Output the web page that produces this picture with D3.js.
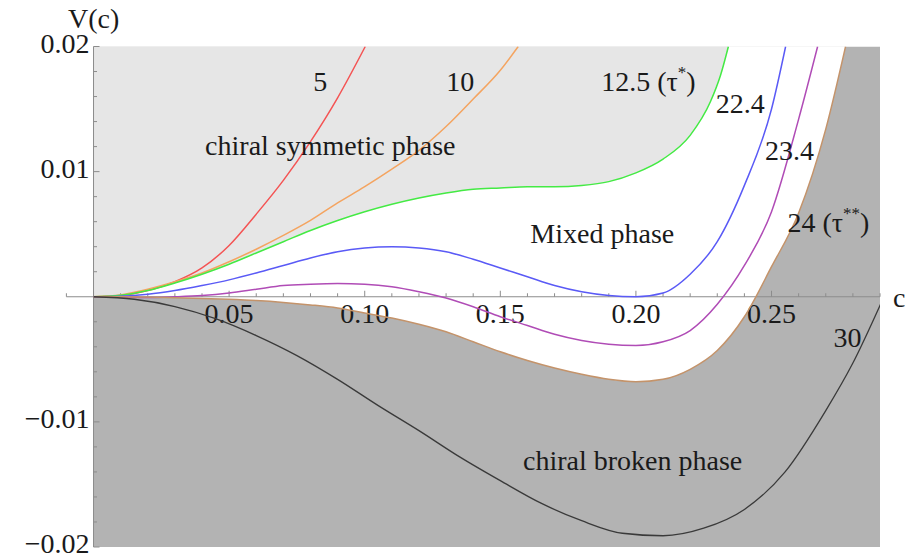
<!DOCTYPE html>
<html>
<head>
<meta charset="utf-8">
<script src="https://cdn.jsdelivr.net/npm/d3@7"></script>
<style>
  html, body { margin: 0; padding: 0; background: #fff; }
</style>
</head>
<body>
<svg id="chart" width="906" height="554"></svg>
<script>
// V(c) curves, one per tau as [c, V]
const tau5 = [[0,0],[0.01,0.0001],[0.02,0.0005],[0.03,0.0012],[0.04,0.0023],[0.05,0.0041],[0.06,0.0066],[0.07,0.0093],[0.08,0.0124],[0.09,0.0159],[0.1002,0.02]];
const tau10 = [[0,0],[0.01,0.00015],[0.02,0.0006],[0.03,0.0012],[0.04,0.0019],[0.05,0.0028],[0.06,0.0038],[0.07,0.0049],[0.08,0.0061],[0.09,0.0075],[0.10,0.0088],[0.11,0.0102],[0.12,0.0117],[0.13,0.0136],[0.14,0.0158],[0.15,0.0181],[0.1566,0.02]];
const tau125 = [[0,0],[0.01,0.00012],[0.02,0.0005],[0.03,0.0011],[0.04,0.0018],[0.05,0.0026],[0.06,0.0035],[0.07,0.0044],[0.08,0.0053],[0.09,0.0061],[0.10,0.0068],[0.11,0.0074],[0.12,0.0079],[0.13,0.0083],[0.14,0.0086],[0.15,0.0087],[0.16,0.0088],[0.17,0.0088],[0.18,0.0089],[0.19,0.0092],[0.20,0.0099],[0.21,0.0110],[0.22,0.0129],[0.2275,0.0156],[0.2312,0.0177],[0.2341,0.02]];
const tau224 = [[0,0],[0.01,0.00004],[0.02,0.0002],[0.03,0.0005],[0.04,0.0009],[0.05,0.00135],[0.06,0.0019],[0.07,0.0025],[0.08,0.0031],[0.09,0.0036],[0.10,0.0039],[0.11,0.0040],[0.12,0.0039],[0.13,0.0036],[0.14,0.0030],[0.15,0.0023],[0.16,0.0016],[0.17,0.0009],[0.18,0.0004],[0.19,0.0001],[0.20,0],[0.21,0.0003],[0.22,0.0018],[0.23,0.0044],[0.24,0.0089],[0.25,0.0150],[0.2552,0.02]];
const tau234 = [[0,0],[0.01,-0.00002],[0.02,-0.00006],[0.03,0],[0.04,0.0001],[0.05,0.0003],[0.06,0.0006],[0.07,0.0009],[0.08,0.0010],[0.09,0.00105],[0.10,0.0010],[0.11,0.0008],[0.12,0.0004],[0.13,-0.0001],[0.14,-0.0008],[0.15,-0.0016],[0.16,-0.0023],[0.17,-0.0030],[0.18,-0.0035],[0.19,-0.0038],[0.20,-0.0039],[0.21,-0.0036],[0.22,-0.0027],[0.23,-0.0006],[0.24,0.0025],[0.25,0.0068],[0.26,0.0142],[0.267,0.02]];
const tau24 = [[0,0],[0.01,0],[0.02,-0.00003],[0.03,-0.00008],[0.04,-0.00013],[0.05,-0.0002],[0.06,-0.0003],[0.07,-0.00045],[0.08,-0.00065],[0.09,-0.0009],[0.10,-0.0013],[0.11,-0.0017],[0.12,-0.0022],[0.13,-0.0028],[0.14,-0.0036],[0.15,-0.0044],[0.16,-0.0051],[0.17,-0.0057],[0.18,-0.0062],[0.19,-0.0066],[0.20,-0.0068],[0.21,-0.0066],[0.22,-0.0058],[0.23,-0.0043],[0.24,-0.0016],[0.25,0.0024],[0.26,0.0067],[0.27,0.0134],[0.2773,0.02]];
const tau30 = [[0,0],[0.015,-0.0002],[0.03,-0.00078],[0.045,-0.00175],[0.06,-0.0031],[0.075,-0.0047],[0.09,-0.0066],[0.105,-0.0087],[0.12,-0.0107],[0.135,-0.0128],[0.15,-0.0147],[0.165,-0.0165],[0.18,-0.0179],[0.195,-0.0189],[0.21,-0.0191],[0.225,-0.0185],[0.24,-0.0170],[0.255,-0.0140],[0.27,-0.0091],[0.28,-0.0053],[0.2902,-0.0006]];

const curveNames = ["5", "10", "12.5", "22.4", "23.4", "24", "30"];
const curveData = [tau5, tau10, tau125, tau224, tau234, tau24, tau30];
const curveColors = ["#f45454", "#f4a460", "#44ea44", "#5a5af6", "#b04cb6", "#c4936a", "#3a3a3a"];

const xMajorTicks = [0.05, 0.10, 0.15, 0.20, 0.25];
const yMajorTicks = [-0.02, -0.01, 0.01, 0.02];

// annotation anchors in data coordinates
const curveLabels = [
  { text: "5", c: 0.0836, v: 0.01720 },
  { text: "10", c: 0.1352, v: 0.01720 },
  { text: "12.5 (τ", sup: "*", c: 0.2046, v: 0.01720 },
  { text: "22.4", c: 0.2385, v: 0.01546 },
  { text: "23.4", c: 0.2566, v: 0.01163 },
  { text: "24 (τ", sup: "**", c: 0.2710, v: 0.0059 },
  { text: "30", c: 0.2780, v: -0.00327 }
];
const phaseLabels = [
  { text: "chiral symmetic phase", c: 0.0873, v: 0.01203 },
  { text: "Mixed phase", c: 0.1876, v: 0.00502 },
  { text: "chiral broken phase", c: 0.1988, v: -0.01307 }
];

const fontFamily = '"Liberation Serif", "Times New Roman", serif';
const fontSize = 28;

const svg = d3.select("#chart")
  .style("font-family", fontFamily);

const xScale = d3.scaleLinear().domain([-0.01, 0.29]).range([66.4, 880]);
const yScale = d3.scaleLinear().domain([-0.02, 0.02]).range([547, 46.5]);

const x0 = xScale(0), x1 = xScale(0.29);
const yTop = yScale(0.02), yBot = yScale(-0.02);

svg.append("clipPath").attr("id", "plot-clip")
  .append("rect")
  .attr("x", x0).attr("y", yTop)
  .attr("width", x1 - x0).attr("height", yBot - yTop);

const regions = svg.append("g").attr("clip-path", "url(#plot-clip)");

// chiral broken phase (everything below / right of tau = 24)
regions.append("rect")
  .attr("x", x0).attr("y", yTop)
  .attr("width", x1 - x0).attr("height", yBot - yTop)
  .attr("fill", "#b3b3b3");

const areaAbove = d3.area()
  .x(d => xScale(d[0]))
  .y0(yTop - 10)
  .y1(d => yScale(d[1]))
  .curve(d3.curveMonotoneX);

// mixed phase: above tau = 24
regions.append("path")
  .datum(tau24)
  .attr("fill", "#ffffff")
  .attr("d", areaAbove);

// chiral symmetric phase: above tau = 12.5
regions.append("path")
  .datum(tau125)
  .attr("fill", "#e6e6e6")
  .attr("d", areaAbove);

const line = d3.line()
  .x(d => xScale(d[0]))
  .y(d => yScale(d[1]))
  .curve(d3.curveMonotoneX);

// axes (drawn under the curves)
const axisColor = "#8c8c8c";
const axes = svg.append("g");

axes.append("line")
  .attr("x1", xScale(-0.01)).attr("x2", x1)
  .attr("y1", yScale(0)).attr("y2", yScale(0))
  .attr("stroke", axisColor).attr("stroke-width", 1);

axes.append("line")
  .attr("x1", x0).attr("x2", x0)
  .attr("y1", yTop).attr("y2", yBot)
  .attr("stroke", axisColor).attr("stroke-width", 1);

const xMinor = d3.range(-1, 30).map(i => i / 100);
axes.selectAll(".xtick")
  .data(xMinor)
  .enter()
  .append("line")
  .attr("x1", d => xScale(d)).attr("x2", d => xScale(d))
  .attr("y1", yScale(0))
  .attr("y2", d => yScale(0) - (Math.round(d * 100) % 5 === 0 ? 6 : 3.5))
  .attr("stroke", axisColor).attr("stroke-width", 1);

const yMinor = d3.range(-10, 11).map(i => i / 500);
axes.selectAll(".ytick")
  .data(yMinor)
  .enter()
  .append("line")
  .attr("y1", d => yScale(d)).attr("y2", d => yScale(d))
  .attr("x1", x0)
  .attr("x2", d => x0 + (Math.round(d * 500) % 5 === 0 ? 6 : 3.5))
  .attr("stroke", axisColor).attr("stroke-width", 1);

svg.append("g").attr("clip-path", "url(#plot-clip)")
  .selectAll(".curve")
  .data(curveData)
  .enter()
  .append("path")
  .attr("class", "curve")
  .attr("fill", "none")
  .attr("stroke", (d, i) => curveColors[i])
  .attr("stroke-width", (d, i) => i === 6 ? 1.3 : 1.5)
  .attr("d", line);

const textColor = "#1a1a1a";
const fmt = d3.format(".2f");

axes.selectAll(".xlabel")
  .data(xMajorTicks)
  .enter()
  .append("text")
  .attr("x", d => xScale(d))
  .attr("y", yScale(0) + 17)
  .attr("dy", "0.33em")
  .attr("text-anchor", "middle")
  .attr("font-size", fontSize)
  .attr("fill", textColor)
  .text(d => fmt(d));

axes.selectAll(".ylabel")
  .data(yMajorTicks)
  .enter()
  .append("text")
  .attr("x", x0 - 4)
  .attr("y", d => yScale(d) - 3)
  .attr("dy", "0.33em")
  .attr("text-anchor", "end")
  .attr("font-size", fontSize)
  .attr("fill", textColor)
  .text(d => fmt(d).replace("-", "\u2212"));

svg.append("text")
  .attr("x", 68).attr("y", 19).attr("dy", "0.33em")
  .attr("font-size", fontSize)
  .attr("fill", textColor)
  .text("V(c)");

svg.append("text")
  .attr("x", 893).attr("y", yScale(0) + 2).attr("dy", "0.3em")
  .attr("font-size", fontSize)
  .attr("fill", textColor)
  .text("c");

// curve and phase labels
const labels = svg.append("g");
curveLabels.forEach(l => {
  const t = labels.append("text")
    .attr("x", xScale(l.c)).attr("y", yScale(l.v))
    .attr("dy", "0.33em")
    .attr("text-anchor", "middle")
    .attr("font-size", fontSize)
    .attr("fill", textColor)
    .text(l.text);
  if (l.sup) {
    t.append("tspan").attr("font-size", 17).attr("dy", "-0.75em").text(l.sup);
    t.append("tspan").attr("font-size", fontSize).attr("dy", "0.45em").text(")");
  }
});

phaseLabels.forEach(l => {
  labels.append("text")
    .attr("x", xScale(l.c)).attr("y", yScale(l.v))
    .attr("dy", "0.33em")
    .attr("text-anchor", "middle")
    .attr("font-size", fontSize)
    .attr("fill", textColor)
    .text(l.text);
});
</script>
</body>
</html>
